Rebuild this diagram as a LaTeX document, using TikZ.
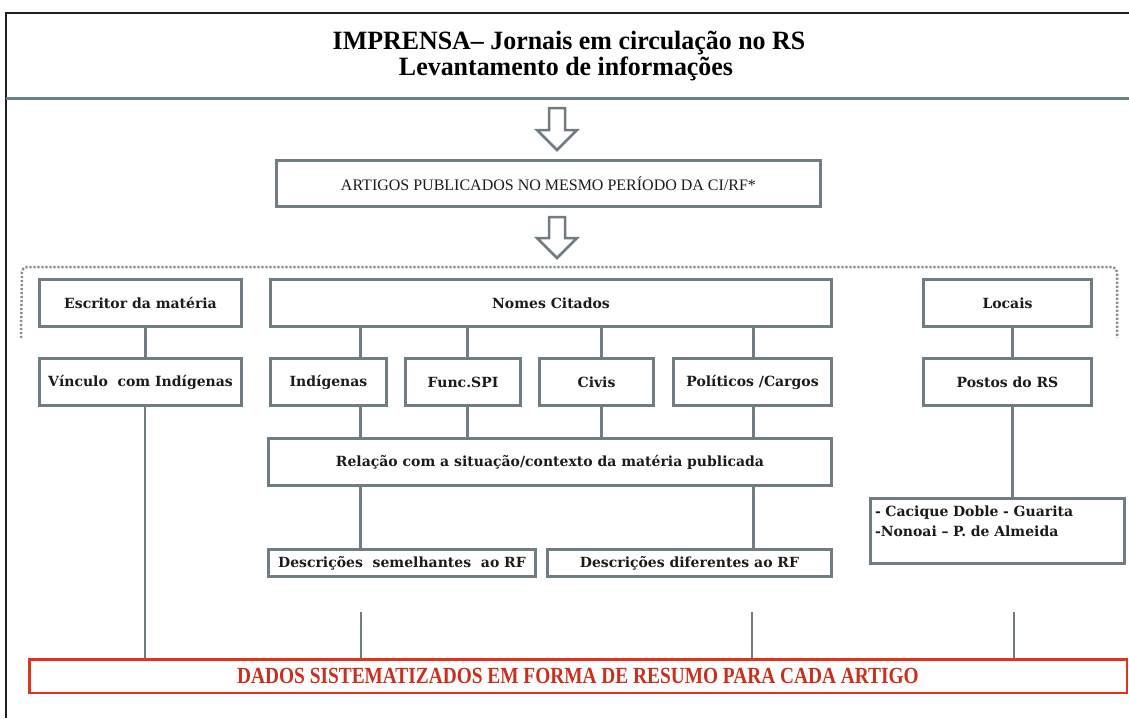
\documentclass[tikz,border=0pt]{standalone}
\usepackage{fontspec}
\setmainfont{Liberation Serif}
\newfontfamily\slab{DejaVu Serif}
\definecolor{bx}{HTML}{6F7C82}
\definecolor{sep}{HTML}{6A8088}
\definecolor{rd}{HTML}{E2331F}
\definecolor{txt}{HTML}{1E1A18}
\tikzset{
  box/.style={draw=bx, line width=3pt, fill=white, inner sep=0pt, outer sep=0pt,
    text=txt, font=\slab\bfseries\fontsize{14}{20}\selectfont},
  conn/.style={draw=bx, line width=3pt},
  lowline/.style={draw=bx, line width=2pt},
  blockarrow/.style={draw=bx, line width=2.5pt, fill=white, line join=miter},
  dotline/.style={draw=bx!85, line width=2.5pt, dash pattern=on 2.2pt off 1.8pt, rounded corners=5pt},
  titletext/.style={anchor=base, font=\bfseries\fontsize{24}{24}\selectfont, text=black, inner sep=0pt},
}
\newcommand\bx[7][]{\node[box,minimum width={#5-#3-3},minimum height={#6-#4-3},#1] (#2) at ({(#3+#5)/2},{(#4+#6)/2}) {#7};}
\begin{document}
\begin{tikzpicture}[x=1pt,y=-1pt]
\useasboundingbox (0,0) rectangle (1129,718);
% frame
\draw[line width=2pt, black!88] (6,718) -- (6,13) -- (1129,13);
\draw[line width=2.5pt, sep] (6,98.5) -- (1129,98.5);
% title
\node[titletext] (t1) at (569,49) {\scalebox{1.08}[1.1]{IMPRENSA– Jornais em circulação no RS}};
\node[titletext] (t2) at (566,75) {\scalebox{1.08}[1.1]{Levantamento de informações}};
% arrows
\draw[blockarrow] (549,108) -- (565,108) -- (565,130) -- (577,130) -- (557,150) -- (537,130) -- (549,130) -- cycle;
\draw[blockarrow] (549,217) -- (565,217) -- (565,238) -- (577,238) -- (557,258) -- (537,238) -- (549,238) -- cycle;
% artigos
\bx[font=\fontsize{16}{18}\selectfont]{art}{275}{159}{822}{208}{ARTIGOS PUBLICADOS NO MESMO PERÍODO DA CI/RF*}
% dotted bracket
\draw[dotline] (21,338) -- (22,267) -- (1117,267) -- (1117,338);
% row 1
\bx{esc}{38}{278}{243}{328}{Escritor da matéria}
\bx{nom}{269}{278}{833}{328}{Nomes Citados}
\bx{loc}{922}{278}{1093}{328}{Locais}
% row 2
\bx{vin}{38}{357}{243}{407}{Vínculo~ com Indígenas}
\bx{ind}{269}{357}{388}{407}{Indígenas}
\bx{fun}{404}{357}{522}{407}{Func.SPI}
\bx{civ}{538}{357}{655}{407}{Civis}
\bx{pol}{672}{357}{833}{407}{Políticos /Cargos}
\bx{pos}{922}{357}{1093}{407}{Postos do RS}
% relacao
\bx{rel}{267}{437}{833}{487}{Relação com a situação/contexto da matéria publicada}
\bx{da}{267}{548}{537}{578}{Descrições~ semelhantes~ ao RF}
\bx{db}{546}{548}{833}{578}{Descrições diferentes ao RF}
\bx[align=left, text width=245pt]{cac}{869}{497}{1126}{565}{- Cacique Doble - Guarita\\-Nonoai – P. de Almeida\\\mbox{}}
% dados
\node[draw=rd, line width=2.5pt, fill=white, inner sep=0pt, minimum width=1097.5pt, minimum height=33.5pt,
  text=rd!90!black, font=\bfseries\fontsize{22}{22}\selectfont] (dad) at (578,676)
  {\scalebox{0.88}[1.05]{DADOS SISTEMATIZADOS EM FORMA DE RESUMO PARA CADA ARTIGO}};
% coordinates for connector x positions
\coordinate (x145) at (145,0);
\coordinate (x360) at (360,0);
\coordinate (x467) at (467,0);
\coordinate (x601) at (601,0);
\coordinate (x753) at (753,0);
\coordinate (x1012) at (1012,0);
% connectors
\draw[conn] (esc.south -| x145) -- (vin.north -| x145);
\draw[conn] (nom.south -| x360) -- (ind.north -| x360);
\draw[conn] (nom.south -| x467) -- (fun.north -| x467);
\draw[conn] (nom.south -| x601) -- (civ.north -| x601);
\draw[conn] (nom.south -| x753) -- (pol.north -| x753);
\draw[conn] (ind.south -| x360) -- (rel.north -| x360);
\draw[conn] (fun.south -| x467) -- (rel.north -| x467);
\draw[conn] (civ.south -| x601) -- (rel.north -| x601);
\draw[conn] (pol.south -| x753) -- (rel.north -| x753);
\draw[conn] (rel.south -| x360) -- (da.north -| x360);
\draw[conn] (rel.south -| x753) -- (db.north -| x753);
\draw[conn] (loc.south -| x1012) -- (pos.north -| x1012);
\draw[conn] (pos.south -| x1012) -- (cac.north -| x1012);
% lower lines
\draw[lowline] (vin.south -| x145) -- (dad.north -| x145);
\coordinate (f1) at (361,612);
\coordinate (f2) at (752,612);
\coordinate (f3) at (1014,612);
\draw[lowline] (f1) -- (dad.north -| f1);
\draw[lowline] (f2) -- (dad.north -| f2);
\draw[lowline] (f3) -- (dad.north -| f3);
\end{tikzpicture}
\end{document}
